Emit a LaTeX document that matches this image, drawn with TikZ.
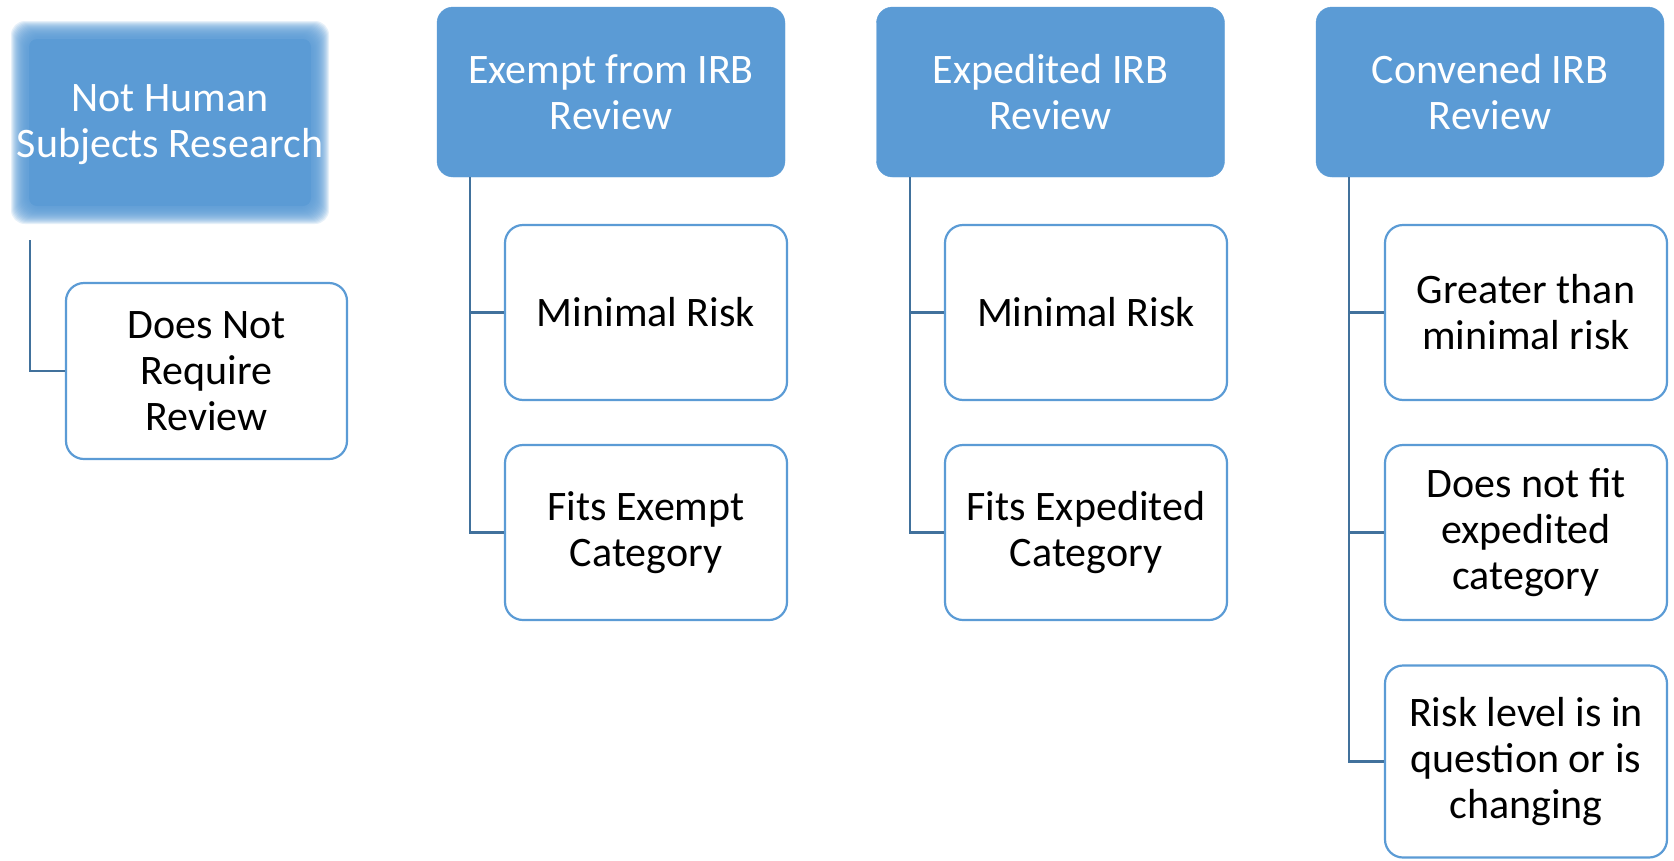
\documentclass[tikz,border=0pt]{standalone}
\usepackage{fontspec}
\setmainfont{Carlito}
\definecolor{hdr}{HTML}{5B9BD5}
\definecolor{conn}{HTML}{41719C}
\begin{document}
\begin{tikzpicture}[x=1pt,y=-1pt,
  hdrbox/.style={draw=hdr, fill=hdr, rounded corners=16pt, text=white, align=center,
    font=\fontsize{42}{46}\selectfont, inner sep=0pt, minimum width=348pt, minimum height=170pt},
  childbox/.style={draw=hdr, line width=2.2pt, fill=white, rounded corners=18pt, align=center,
    font=\fontsize{42}{46}\selectfont, inner sep=0pt, minimum width=282pt, minimum height=175pt},
  connector/.style={draw=conn, line width=2.2pt}]
\useasboundingbox (0,0) rectangle (1674,860);

% soft-edged first header
\foreach \d in {16,15,...,0}{
  \fill[hdr, fill opacity=0.15, rounded corners=14pt] (27-\d,37-\d) rectangle (313+\d,208+\d);
}
\fill[hdr, rounded corners=8pt] (29,39) rectangle (311,206);
\node[text=white, align=center, font=\fontsize{42}{46}\selectfont, inner sep=0pt,
  minimum width=314pt, minimum height=199pt] (nh) at (170,125) {Not Human\\Subjects Research};

\node[childbox, minimum width=281pt, minimum height=176pt] (dn) at (206.5,371) {Does Not\\Require\\Review};

\node[hdrbox] (exh) at (611,92) {Exempt from IRB\\Review};
\node[hdrbox] (xph) at (1050.5,92) {Expedited IRB\\Review};
\node[hdrbox] (cvh) at (1490,92) {Convened IRB\\Review};

\node[childbox] (exmr) at (646,312.5) {Minimal Risk};
\node[childbox] (exfe) at (646,532.5) {Fits Exempt\\Category};
\node[childbox] (xpmr) at (1086,312.5) {Minimal Risk};
\node[childbox] (xpfe) at (1086,532.5) {Fits Expedited\\Category};
\node[childbox] (cvgt) at (1526,312.5) {Greater than\\minimal risk};
\node[childbox] (cvnf) at (1526,532.5) {Does not fit\\expedited\\category};
\node[childbox, minimum height=192pt] (cvrl) at (1526,761.5) {Risk level is in\\question or is\\changing};

\coordinate (nhc) at (30,240);
\coordinate (exc) at (470,177);
\coordinate (xpc) at (910,177);
\coordinate (cvc) at (1349,177);

\draw[connector] (nhc) |- (dn.west);
\draw[connector] (exc) |- (exfe.west);
\draw[connector] (exc |- exmr.west) -- (exmr.west);
\draw[connector] (xpc) |- (xpfe.west);
\draw[connector] (xpc |- xpmr.west) -- (xpmr.west);
\draw[connector] (cvc) |- (cvrl.west);
\draw[connector] (cvc |- cvgt.west) -- (cvgt.west);
\draw[connector] (cvc |- cvnf.west) -- (cvnf.west);
\end{tikzpicture}
\end{document}
